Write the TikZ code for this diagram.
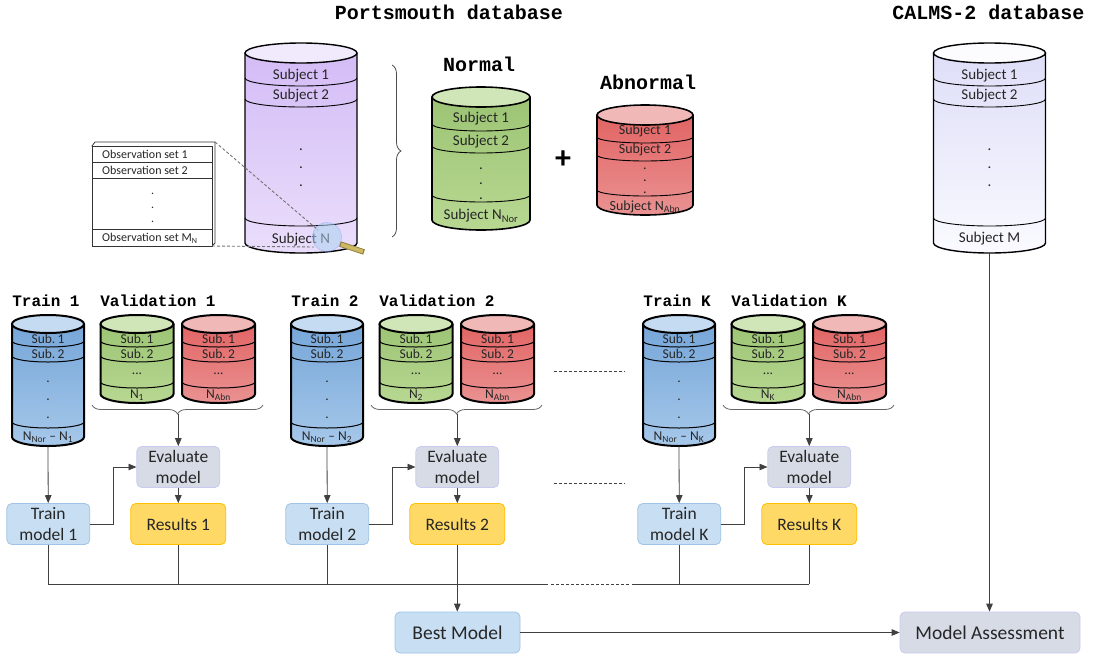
\documentclass[tikz,border=0pt]{standalone}
\usepackage{fontspec}
\setmainfont{Carlito}
\newfontfamily\monofnt{Liberation Mono}
\usepackage{tikz}
\usetikzlibrary{arrows,decorations.pathreplacing}

\definecolor{linegray}{RGB}{64,64,64}
\definecolor{txtgray}{RGB}{38,38,38}
\definecolor{pmbody}{RGB}{234,222,251}
\definecolor{pmtop}{RGB}{212,188,246}
\definecolor{clbody}{RGB}{250,250,255}
\definecolor{cltop}{RGB}{222,222,248}
\definecolor{grbody}{RGB}{184,216,146}
\definecolor{grtop}{RGB}{156,196,116}
\definecolor{rdbody}{RGB}{234,146,146}
\definecolor{rdtop}{RGB}{226,100,100}
\definecolor{blbody}{RGB}{166,200,234}
\definecolor{bltop}{RGB}{118,166,216}
\definecolor{bxblue}{RGB}{200,222,242}
\definecolor{bxblueln}{RGB}{160,196,232}
\definecolor{bxgrey}{RGB}{214,219,229}
\definecolor{bxgreyln}{RGB}{202,202,240}
\definecolor{bxyel}{RGB}{255,217,102}
\definecolor{bxyelln}{RGB}{255,192,0}
\definecolor{lensblue}{RGB}{170,210,240}
\definecolor{handlefill}{RGB}{205,185,100}
\definecolor{handleln}{RGB}{140,120,50}

\newcommand{\titlefnt}{\monofnt\bfseries\fontsize{20}{24}\selectfont}
\newcommand{\foldfnt}{\monofnt\bfseries\fontsize{16}{19}\selectfont}
\newcommand{\subjfnt}{\fontsize{15}{18}\selectfont}
\newcommand{\smsubjfnt}{\fontsize{14}{16.5}\selectfont}
\newcommand{\subfnt}{\fontsize{13.5}{16}\selectfont}
\newcommand{\obsfnt}{\fontsize{12}{14}\selectfont}
\newcommand{\boxfnt}{\fontsize{17.5}{21.5}\selectfont}
\newcommand{\bigboxfnt}{\fontsize{19.5}{23}\selectfont}

\tikzstyle{arr} = [-triangle 45, linegray, line width=0.8pt]
\tikzstyle{conn} = [linegray, line width=0.8pt]
\tikzstyle{gapline} = [linegray, line width=0.8pt, dash pattern=on 3pt off 2pt]
\tikzstyle{zoomline} = [black!55, line width=0.9pt, dash pattern=on 3pt off 2pt]
\tikzstyle{dbtitle} = [font=\titlefnt, inner sep=0pt]
\tikzstyle{foldtitle} = [font=\foldfnt, inner sep=0pt]
\tikzstyle{subjlbl} = [font=\subjfnt, text=txtgray, inner sep=0pt]
\tikzstyle{smsubjlbl} = [subjlbl, font=\smsubjfnt]
\tikzstyle{sublbl} = [font=\subfnt, text=txtgray, inner sep=0pt]
\tikzstyle{dotlbl} = [text=txtgray, inner sep=0pt, text height=2pt, text depth=0pt]
\tikzstyle{obslbl} = [font=\obsfnt, text=txtgray, inner sep=0pt, anchor=west]
\tikzstyle{bluebox} = [draw=bxblueln, fill=bxblue, rounded corners=5pt, minimum width=83pt, minimum height=41pt, align=center, font=\boxfnt, text=txtgray, line width=0.8pt]
\tikzstyle{greybox} = [bluebox, draw=bxgreyln, fill=bxgrey]
\tikzstyle{yelbox} = [bluebox, draw=bxyelln, fill=bxyel, minimum width=95pt]

% cx, y of lid, y of base, rx, ry, body colour, top colour, line width
\newcommand{\dbcyl}[8]{%
  \shade[top color=#7, bottom color=#6] (#1-#4,#2) -- (#1-#4,#3) arc[start angle=180,end angle=0,x radius=#4,y radius=#5] -- (#1+#4,#2) -- cycle;
  \draw[line width=#8] (#1-#4,#2) -- (#1-#4,#3) arc[start angle=180,end angle=0,x radius=#4,y radius=#5] -- (#1+#4,#2);
  \draw[line width=#8, fill=#6!65!white] (#1,#2) ellipse[x radius=#4,y radius=#5];
}
\newcommand{\cylsep}[5]{\draw[line width=#5] (#1-#3,#2) arc[start angle=180,end angle=0,x radius=#3,y radius=#4];}

% one fold: name suffix, x offset
\newcommand{\fold}[2]{%
  \node[foldtitle] (trt#1) at (46+#2,301) {Train #1};
  \node[foldtitle] (vlt#1) at (158+#2,301) {Validation #1};
  \dbcyl{48+#2}{324}{437}{36}{9}{blbody}{bltop}{2pt}
  \cylsep{48+#2}{341}{36}{6}{1pt}
  \cylsep{48+#2}{356}{36}{6}{1pt}
  \cylsep{48+#2}{422}{36}{6}{1pt}
  \node[sublbl] (tra#1) at (48+#2,339) {Sub.\,1};
  \node[sublbl] (trb#1) at (48+#2,354) {Sub.\,2};
  \node[sublbl, dotlbl] (trd#1a) at (48+#2,381) {.};
  \node[sublbl, dotlbl] (trd#1b) at (48+#2,399) {.};
  \node[sublbl, dotlbl] (trd#1c) at (48+#2,417) {.};
  \node[sublbl] (trn#1) at (48+#2,437) {N\textsubscript{Nor} -- N\textsubscript{#1}};
  \coordinate (trbot#1) at (48+#2,446);
  \dbcyl{137+#2}{324}{394}{36.5}{9}{grbody}{grtop}{2pt}
  \cylsep{137+#2}{341}{36.5}{6}{1pt}
  \cylsep{137+#2}{356}{36.5}{6}{1pt}
  \cylsep{137+#2}{382}{36.5}{6}{1pt}
  \node[sublbl] (gva#1) at (137+#2,339) {Sub.\,1};
  \node[sublbl] (gvb#1) at (137+#2,354) {Sub.\,2};
  \node[sublbl] (gvd#1) at (137+#2,374) {...};
  \node[sublbl] (gvn#1) at (137+#2,395) {N\textsubscript{#1}};
  \dbcyl{218.5+#2}{324}{394}{36.5}{9}{rdbody}{rdtop}{2pt}
  \cylsep{218.5+#2}{341}{36.5}{6}{1pt}
  \cylsep{218.5+#2}{356}{36.5}{6}{1pt}
  \cylsep{218.5+#2}{382}{36.5}{6}{1pt}
  \node[sublbl] (rva#1) at (218.5+#2,339) {Sub.\,1};
  \node[sublbl] (rvb#1) at (218.5+#2,354) {Sub.\,2};
  \node[sublbl] (rvd#1) at (218.5+#2,374) {...};
  \node[sublbl] (rvn#1) at (218.5+#2,395) {N\textsubscript{Abn}};
  \draw[black!60, line width=0.8pt, decorate, decoration={brace, amplitude=9pt}] (263+#2,405) -- (92+#2,405);
  \coordinate (vtip#1) at (178.3+#2,414);
  \node[greybox] (ev#1) at (178.3+#2,467) {Evaluate\\model};
  \node[bluebox] (tm#1) at (48.3+#2,524) {Train\\model #1};
  \node[yelbox] (res#1) at (178.3+#2,524) {Results #1};
  \draw[arr] (trbot#1) -- (tm#1);
  \draw[arr] (vtip#1) -- (ev#1);
  \draw[arr] (ev#1) -- (res#1);
  \draw[arr] (tm#1.east) -- ++(23,0) |- (ev#1.west);
  \draw[conn] (tm#1.south) -- (tm#1.south |- bus);
  \draw[conn] (res#1.south) -- (res#1.south |- bus);
}

\begin{document}
\begin{tikzpicture}[yscale=-1, x=1pt, y=1pt]
\useasboundingbox (0,0) rectangle (1094,656);
\coordinate (bus) at (0,584);

\node[dbtitle] (pmtitle) at (449,12) {Portsmouth database};
\node[dbtitle] (cltitle) at (988.5,12) {CALMS-2 database};
\node[dbtitle] (nrtitle) at (479,64) {Normal};
\node[dbtitle] (abtitle) at (648,82) {Abnormal};

\dbcyl{301}{53}{243}{56}{10}{pmbody}{pmtop}{1.4pt}
\cylsep{301}{78}{56}{8}{0.9pt}
\cylsep{301}{99}{56}{8}{0.9pt}
\cylsep{301}{218}{56}{8}{0.9pt}
\node[subjlbl] (pms1) at (301,76) {Subject 1};
\node[subjlbl] (pms2) at (301,96) {Subject 2};
\node[subjlbl, dotlbl] (pmd1) at (301,149) {.};
\node[subjlbl, dotlbl] (pmd2) at (301,167) {.};
\node[subjlbl, dotlbl] (pmd3) at (301,185) {.};
\node[subjlbl] (pmsn) at (301,240) {Subject N};

\dbcyl{989.5}{53}{243}{56}{10}{clbody}{cltop}{1.4pt}
\cylsep{989.5}{78}{56}{8}{0.9pt}
\cylsep{989.5}{99}{56}{8}{0.9pt}
\cylsep{989.5}{218}{56}{8}{0.9pt}
\node[subjlbl] (cls1) at (989.5,76) {Subject 1};
\node[subjlbl] (cls2) at (989.5,96) {Subject 2};
\node[subjlbl, dotlbl] (cld1) at (989.5,149) {.};
\node[subjlbl, dotlbl] (cld2) at (989.5,167) {.};
\node[subjlbl, dotlbl] (cld3) at (989.5,185) {.};
\node[subjlbl] (clsm) at (989.5,239) {Subject M};
\coordinate (clbot) at (989.5,253);

\dbcyl{481}{97}{220}{49}{10}{grbody}{grtop}{1.6pt}
\cylsep{481}{124}{49}{7}{0.9pt}
\cylsep{481}{146}{49}{7}{0.9pt}
\cylsep{481}{195}{49}{7}{0.9pt}
\node[subjlbl] (nrs1) at (481,119) {Subject 1};
\node[subjlbl] (nrs2) at (481,142) {Subject 2};
\node[subjlbl, dotlbl] (nrd1) at (481,168) {.};
\node[subjlbl, dotlbl] (nrd2) at (481,183) {.};
\node[subjlbl, dotlbl] (nrd3) at (481,198) {.};
\node[subjlbl] (nrsn) at (481,216) {Subject N\textsubscript{Nor}};

\dbcyl{645}{115}{205}{48}{10}{rdbody}{rdtop}{1.6pt}
\cylsep{645}{137}{48}{6}{0.9pt}
\cylsep{645}{155}{48}{6}{0.9pt}
\cylsep{645}{190}{48}{6}{0.9pt}
\node[smsubjlbl] (abs1) at (645,131) {Subject 1};
\node[smsubjlbl] (abs2) at (645,149.5) {Subject 2};
\node[smsubjlbl, dotlbl] (abd1) at (645,168) {.};
\node[smsubjlbl, dotlbl] (abd2) at (645,180) {.};
\node[smsubjlbl, dotlbl] (abd3) at (645,192) {.};
\node[smsubjlbl] (absn) at (645,207) {Subject N\textsubscript{Abn}};

\node[font=\fontsize{32}{32}\selectfont\bfseries, inner sep=0pt] (plus) at (563,160) {+};
\draw[black!70, line width=0.8pt, decorate, decoration={brace, amplitude=9pt}] (392,65) -- (392,237);

\draw[black!80, line width=0.8pt, fill=white] (95,142) -- (215,142) -- (215,243) -- (212,246) -- (92,146) -- cycle;
\draw[black!80, line width=0.8pt, fill=white] (92,146) rectangle (212,246);
\draw[black!80, line width=0.6pt] (92,162) -- (212,162);
\draw[black!80, line width=0.6pt] (92,178) -- (212,178);
\draw[black!80, line width=0.6pt] (92,229) -- (212,229);
\node[obslbl] (ob1) at (102,154) {Observation set 1};
\node[obslbl] (ob2) at (102,170) {Observation set 2};
\node[obslbl, dotlbl] (obd1) at (151,193) {.};
\node[obslbl, dotlbl] (obd2) at (151,207) {.};
\node[obslbl, dotlbl] (obd3) at (151,221) {.};
\node[obslbl] (obm) at (102,238) {Observation set M\textsubscript{N}};

\fill[lensblue, opacity=0.55] (327,237) circle (14.5);
\draw[lensblue!70!blue, opacity=0.4, line width=0.6pt] (327,237) circle (14.5);
\draw[handleln, line width=5.5pt] (340,244) -- (364,252);
\draw[handlefill, line width=3.8pt] (341,244.4) -- (363,251.6);
\draw[zoomline] (215,142) -- (318,230);
\draw[zoomline] (212,246) -- (314,247);

\fold{1}{0}
\fold{2}{279}
\fold{K}{631}

\draw[gapline] (554,371) -- (625,371);
\draw[gapline] (554,483) -- (625,483);
\draw[conn] (tm1.south |- bus) -- (548,584);
\draw[gapline] (551,584) -- (630,584);
\draw[conn] (632,584) -- (resK.south |- bus);

\node[bluebox, minimum width=125pt, font=\bigboxfnt] (best) at (457.5,632.5) {Best Model};
\node[greybox, minimum width=180pt, font=\bigboxfnt] (assess) at (990,632.5) {Model Assessment};
\draw[arr] (res2.south) -- (res2.south |- best.north);
\draw[arr] (best) -- (assess);
\draw[arr] (clbot) -- (clbot |- assess.north);
\end{tikzpicture}
\end{document}
